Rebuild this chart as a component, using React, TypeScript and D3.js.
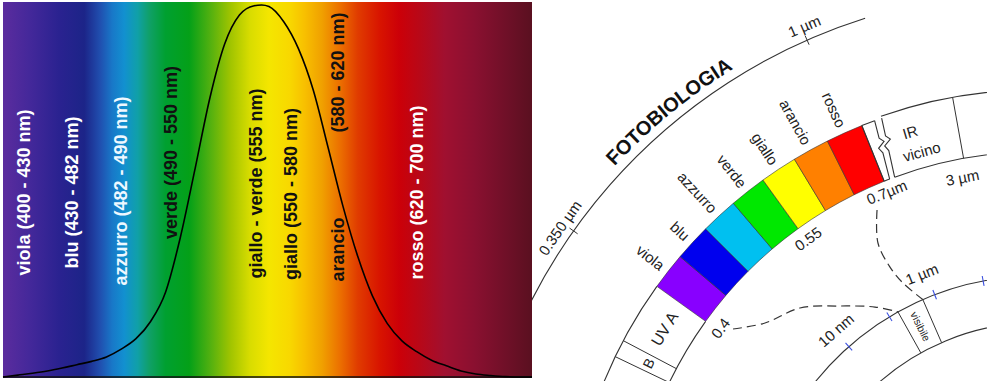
import React from 'react';
import * as d3 from 'd3';

const W = 987;
const H = 381;

// ---------------- LEFT PANEL DATA ----------------
// relative luminous sensitivity
const curveNm = [380, 390, 400, 410, 420, 430, 440, 450, 460, 470, 480, 490, 500, 510, 520, 530, 540, 550, 555, 560, 570, 580, 590, 600, 610, 620, 630, 640, 650, 660, 670, 680, 690, 700, 710, 720, 730, 738];
const curveV = [0, 0.005, 0.01, 0.016, 0.024, 0.033, 0.042, 0.054, 0.075, 0.103, 0.15, 0.228, 0.375, 0.56, 0.75, 0.895, 0.973, 0.998, 1.0, 0.996, 0.955, 0.882, 0.771, 0.617, 0.46, 0.325, 0.218, 0.144, 0.097, 0.068, 0.045, 0.03, 0.016, 0.008, 0.004, 0.001, 0, 0];

// spectrum colour stops (wavelength, colour)
const stopNm = [380, 398, 418, 435, 446, 454, 462, 471, 479, 490, 506, 520, 534, 547, 560, 574, 584, 596, 608, 620, 635, 648, 662, 679, 699, 720, 738];
const stopColor = ['#5b2c9e', '#44289a', '#2a2290', '#1c2488', '#2050b0', '#1878c8', '#1290d0', '#10a0a8', '#10a068', '#00a030', '#04a018', '#50b010', '#a0c400', '#d8dc00', '#f4e600', '#f8d800', '#f8c000', '#f0a000', '#ec7000', '#e03c00', '#d81400', '#cc0008', '#b80818', '#a01030', '#8a1030', '#701028', '#5a1020'];

const rangeText = ['viola (400 - 430 nm)', 'blu (430 - 482 nm)', 'azzurro (482 - 490 nm)', 'verde (490 - 550 nm)', 'giallo - verde (555 nm)', 'giallo (550 - 580 nm)', 'arancio', '(580 - 620 nm)', 'rosso (620 - 700 nm)'];
const rangeNm = [398, 431, 464, 498, 555, 579, 611, 611, 664];

// ---------------- RIGHT PANEL DATA ----------------
const bandNames = ['viola', 'blu', 'azzurro', 'verde', 'giallo', 'arancio', 'rosso'];
const bandColors = ['#8800ff', '#0000ee', '#00c0f0', '#00e800', '#ffff00', '#ff8000', '#ff0000'];
const boundaryLabels = ['0.4', '0.55', '0.7µm'];
const boundaryIndex = [0, 4, 7];
const ringTickNm = [10, 100, 1000, 10000];

// ---------------- LAYOUT ----------------
const PX0 = 3, PX1 = 532, PY0 = 2, PY1 = 378, BASE = 377, TOP = 5;
const labelMidY = [192.5, 192.5, 191, 152.5, 183.5, 194, 249.5, 72.5, 192.5];
const labelFill = ['#ffffff', '#ffffff', '#eef8ff', '#111111', '#111111', '#111111', '#111111', '#111111', '#ffffff'];

const CX = 1035.5, CY = 558;
const R0 = 566, R1 = 466, R2 = 406, R3 = 282, R4 = 235;

const rad = (d: number) => (d * Math.PI) / 180;
const P = (a: number, r: number): [number, number] => [CX + r * Math.cos(rad(a)), CY + r * Math.sin(rad(a))];
function arcPath(r: number, a0: number, a1: number) {
  const p = d3.path();
  const [x0, y0] = P(a0, r);
  p.moveTo(x0, y0);
  p.arc(CX, CY, r, rad(a0), rad(a1), a1 < a0);
  return p.toString();
}
function radial(a: number, r0: number, r1: number) {
  const [x0, y0] = P(a, r0);
  const [x1, y1] = P(a, r1);
  return `M${x0},${y0}L${x1},${y1}`;
}
function zigzag(aTop: number, aBot: number) {
  const [x0, y0] = P(aTop, R1);
  const [x1, y1] = P(aBot, R2);
  const dx = x1 - x0, dy = y1 - y0;
  const L = Math.hypot(dx, dy);
  const ux = dx / L, uy = dy / L;
  const prof = [[0, 0], [0.3, 0], [0.37, -4], [0.46, 3], [0.55, 0], [1, 0]];
  return d3.line()(prof.map(([t, o]) => [x0 + dx * t - uy * o, y0 + dy * t + ux * o] as [number, number])) as string;
}

const bandAngle = d3.scaleLinear().domain([0, 7]).range([-144.34, -111.88]);
const ringAngle = d3.scaleLog().domain([10, 10000]).range([-131.45, -100.7]);

const dash1: [number, number][] = [[-114.48, 382.4], [-116.57, 352.2], [-116.57, 325.3], [-115.73, 305.3], [-113.56, R3]];
const dash2: [number, number][] = [[-142.87, 379.4], [-139.02, 358.3], [-133.29, 343.5], [-127.8, 318.9], [-122.6, 297.9], [-119.2, R3]];

const FONT = 'Liberation Sans, Arial, Helvetica, sans-serif';

export default function App() {
  const x = d3.scaleLinear().domain([380, 738]).range([PX0, PX1]);
  const y = d3.scaleLinear().domain([0, 1]).range([BASE, TOP]);
  const line = d3
    .line<number>()
    .x((_, i) => x(curveNm[i]))
    .y((d) => y(d))
    .curve(d3.curveMonotoneX);

  const arcGen = d3.arc();
  const dashLine = d3.line().curve(d3.curveCatmullRom.alpha(0.5));

  const tanLabel = (a: number, r: number, text: string, key: string, size = 15) => {
    const [tx, ty] = P(a, r);
    return (
      <text key={key} transform={`translate(${tx},${ty}) rotate(${a + 90})`} textAnchor="middle" dominantBaseline="central" fontSize={size} fill="#222" fontFamily={FONT}>
        {text}
      </text>
    );
  };

  const stroke = '#333';

  return (
    <svg width={W} height={H} style={{ position: 'absolute', left: 0, top: 0, background: '#fff' }}>
      <defs>
        <linearGradient id="spec" gradientUnits="userSpaceOnUse" x1={PX0} x2={PX1} y1={0} y2={0}>
          {stopNm.map((nm, i) => (
            <stop key={i} offset={(x(nm) - PX0) / (PX1 - PX0)} stopColor={stopColor[i]} />
          ))}
        </linearGradient>
        <clipPath id="rightClip">
          <rect x={PX1} y={0} width={W - PX1} height={H} />
        </clipPath>
        <path id="fotoArc" d={arcPath(575, -159.38, -99.38)} />
      </defs>
      <rect x={0} y={0} width={W} height={H} fill="#fff" />

      {/* ---------------- right panel ---------------- */}
      <g clipPath="url(#rightClip)" fill="none">
        {/* outer arc with ticks */}
        <path d={arcPath(R0, -170, -107.52)} stroke={stroke} strokeWidth={1.1} />
        <path d={radial(-144.7, R0 - 5, R0 + 5)} stroke={stroke} strokeWidth={1} />
        <path d={radial(-113.8, R0 - 5, R0 + 5)} stroke={stroke} strokeWidth={1} />
        <text fill="#111" fontFamily={FONT} fontWeight="bold" fontSize={20}>
          <textPath href="#fotoArc" startOffset="50%" textAnchor="middle">
            FOTOBIOLOGIA
          </textPath>
        </text>
        {tanLabel(-113.5, 580, '1 µm', 'l1um')}
        {tanLabel(-145.24, 579, '0.350 µm', 'l350')}

        {/* band ring: UV part */}
        <path d={arcPath(R1, -165, bandAngle(0))} stroke={stroke} strokeWidth={1.1} />
        <path d={arcPath(R2, -165, bandAngle(0))} stroke={stroke} strokeWidth={1.1} />
        <path d={radial(-152.2, R2, R1)} stroke={stroke} strokeWidth={1} />
        <path d={radial(-154.4, R2, R1)} stroke={stroke} strokeWidth={1} />
        {tanLabel(-148.3, 436, 'UV A', 'uva', 16)}
        {tanLabel(-153.3, 433, 'B', 'uvb', 14)}

        {/* coloured visible band */}
        {bandNames.map((name, i) => {
          const a0 = bandAngle(i), a1 = bandAngle(i + 1);
          const d = arcGen({ innerRadius: R2, outerRadius: R1, startAngle: rad(a0 + 90), endAngle: rad(a1 + 90) } as any) as string;
          const am = (a0 + a1) / 2;
          const [lx, ly] = P(am, 473);
          return (
            <g key={name}>
              <path d={d} transform={`translate(${CX},${CY})`} fill={bandColors[i]} stroke="#333" strokeWidth={0.6} />
              <text transform={`translate(${lx},${ly}) rotate(${am + 180})`} textAnchor="end" dominantBaseline="central" fontSize={15} fill="#222" fontFamily={FONT}>
                {name}
              </text>
            </g>
          );
        })}
        <path d={radial(bandAngle(7), R2, R1)} stroke={stroke} strokeWidth={1.1} />
        {boundaryLabels.map((t, i) => tanLabel(bandAngle(boundaryIndex[i]) + [0.45, 0.33, -0.25][i], [390, 392, 395][i], t, 'bl' + i))}

        {/* break and near IR box */}
        <path d={arcPath(R1, bandAngle(7), -110.2)} stroke={stroke} strokeWidth={1.1} />
        <path d={arcPath(R2, bandAngle(7), -111.05)} stroke={stroke} strokeWidth={1.1} />
        <path d={zigzag(-110.2, -111.05)} stroke={stroke} strokeWidth={1.1} />
        <path d={zigzag(-109.28, -110.3)} stroke={stroke} strokeWidth={1.1} />
        <path d={arcPath(R1 + 2, -109.28, -85)} stroke={stroke} strokeWidth={1.1} />
        <path d={arcPath(R2, -110.3, -85)} stroke={stroke} strokeWidth={1.1} />
        <path d={radial(-100.2, R2, R1 + 2)} stroke={stroke} strokeWidth={1} />
        {tanLabel(-106.4, 444, 'IR', 'ir', 15)}
        {tanLabel(-105.65, 422, 'vicino', 'vic', 15)}
        {tanLabel(-100.86, 387.4, '3 µm', 'l3um')}

        {/* inner small rings */}
        <path d={arcPath(R3, -150, -80)} stroke={stroke} strokeWidth={1.1} />
        <path d={arcPath(R4, -145, -80)} stroke={stroke} strokeWidth={1.1} />
        {ringTickNm.map((nm) => (
          <path key={nm} d={radial(ringAngle(nm), R3 - 5, R3 + 5)} stroke="#3a50e0" strokeWidth={1.1} />
        ))}
        <path d={radial(-119.2, R4, R3)} stroke={stroke} strokeWidth={1} />
        <path d={radial(-113.56, R4, R3)} stroke={stroke} strokeWidth={1} />
        {(() => {
          const am = (-119.2 + -113.56) / 2;
          const [tx, ty] = P(am, (R3 + R4) / 2);
          return (
            <text transform={`translate(${tx},${ty}) rotate(${am + 180})`} textAnchor="middle" dominantBaseline="central" fontSize={10.5} fill="#222" fontFamily={FONT}>
              visibile
            </text>
          );
        })()}
        {tanLabel(-131.2, 303, '10 nm', 'l10nm')}
        {tanLabel(-111.8, 306, '1 µm', 'l1um2')}

        {/* dashed connectors */}
        <path d={dashLine(dash1.map(([a, r]) => P(a, r))) as string} stroke={stroke} strokeWidth={1.2} strokeDasharray="9 5" />
        <path d={dashLine(dash2.map(([a, r]) => P(a, r))) as string} stroke={stroke} strokeWidth={1.2} strokeDasharray="9 5" />
      </g>

      {/* ---------------- left panel ---------------- */}
      <rect x={PX0} y={PY0} width={PX1 - PX0} height={PY1 - PY0} fill="url(#spec)" />
      <line x1={PX0} x2={PX1} y1={BASE} y2={BASE} stroke="#111" strokeWidth={1.5} />
      <path d={line(curveV) as string} fill="none" stroke="#000" strokeWidth={1.6} />
      {rangeText.map((t, i) => (
        <text
          key={t}
          transform={`translate(${x(rangeNm[i])},${labelMidY[i]}) rotate(-90)`}
          textAnchor="middle"
          fontFamily={FONT}
          fontWeight="bold"
          fontSize={18}
          fill={labelFill[i]}
        >
          {t}
        </text>
      ))}
    </svg>
  );
}
